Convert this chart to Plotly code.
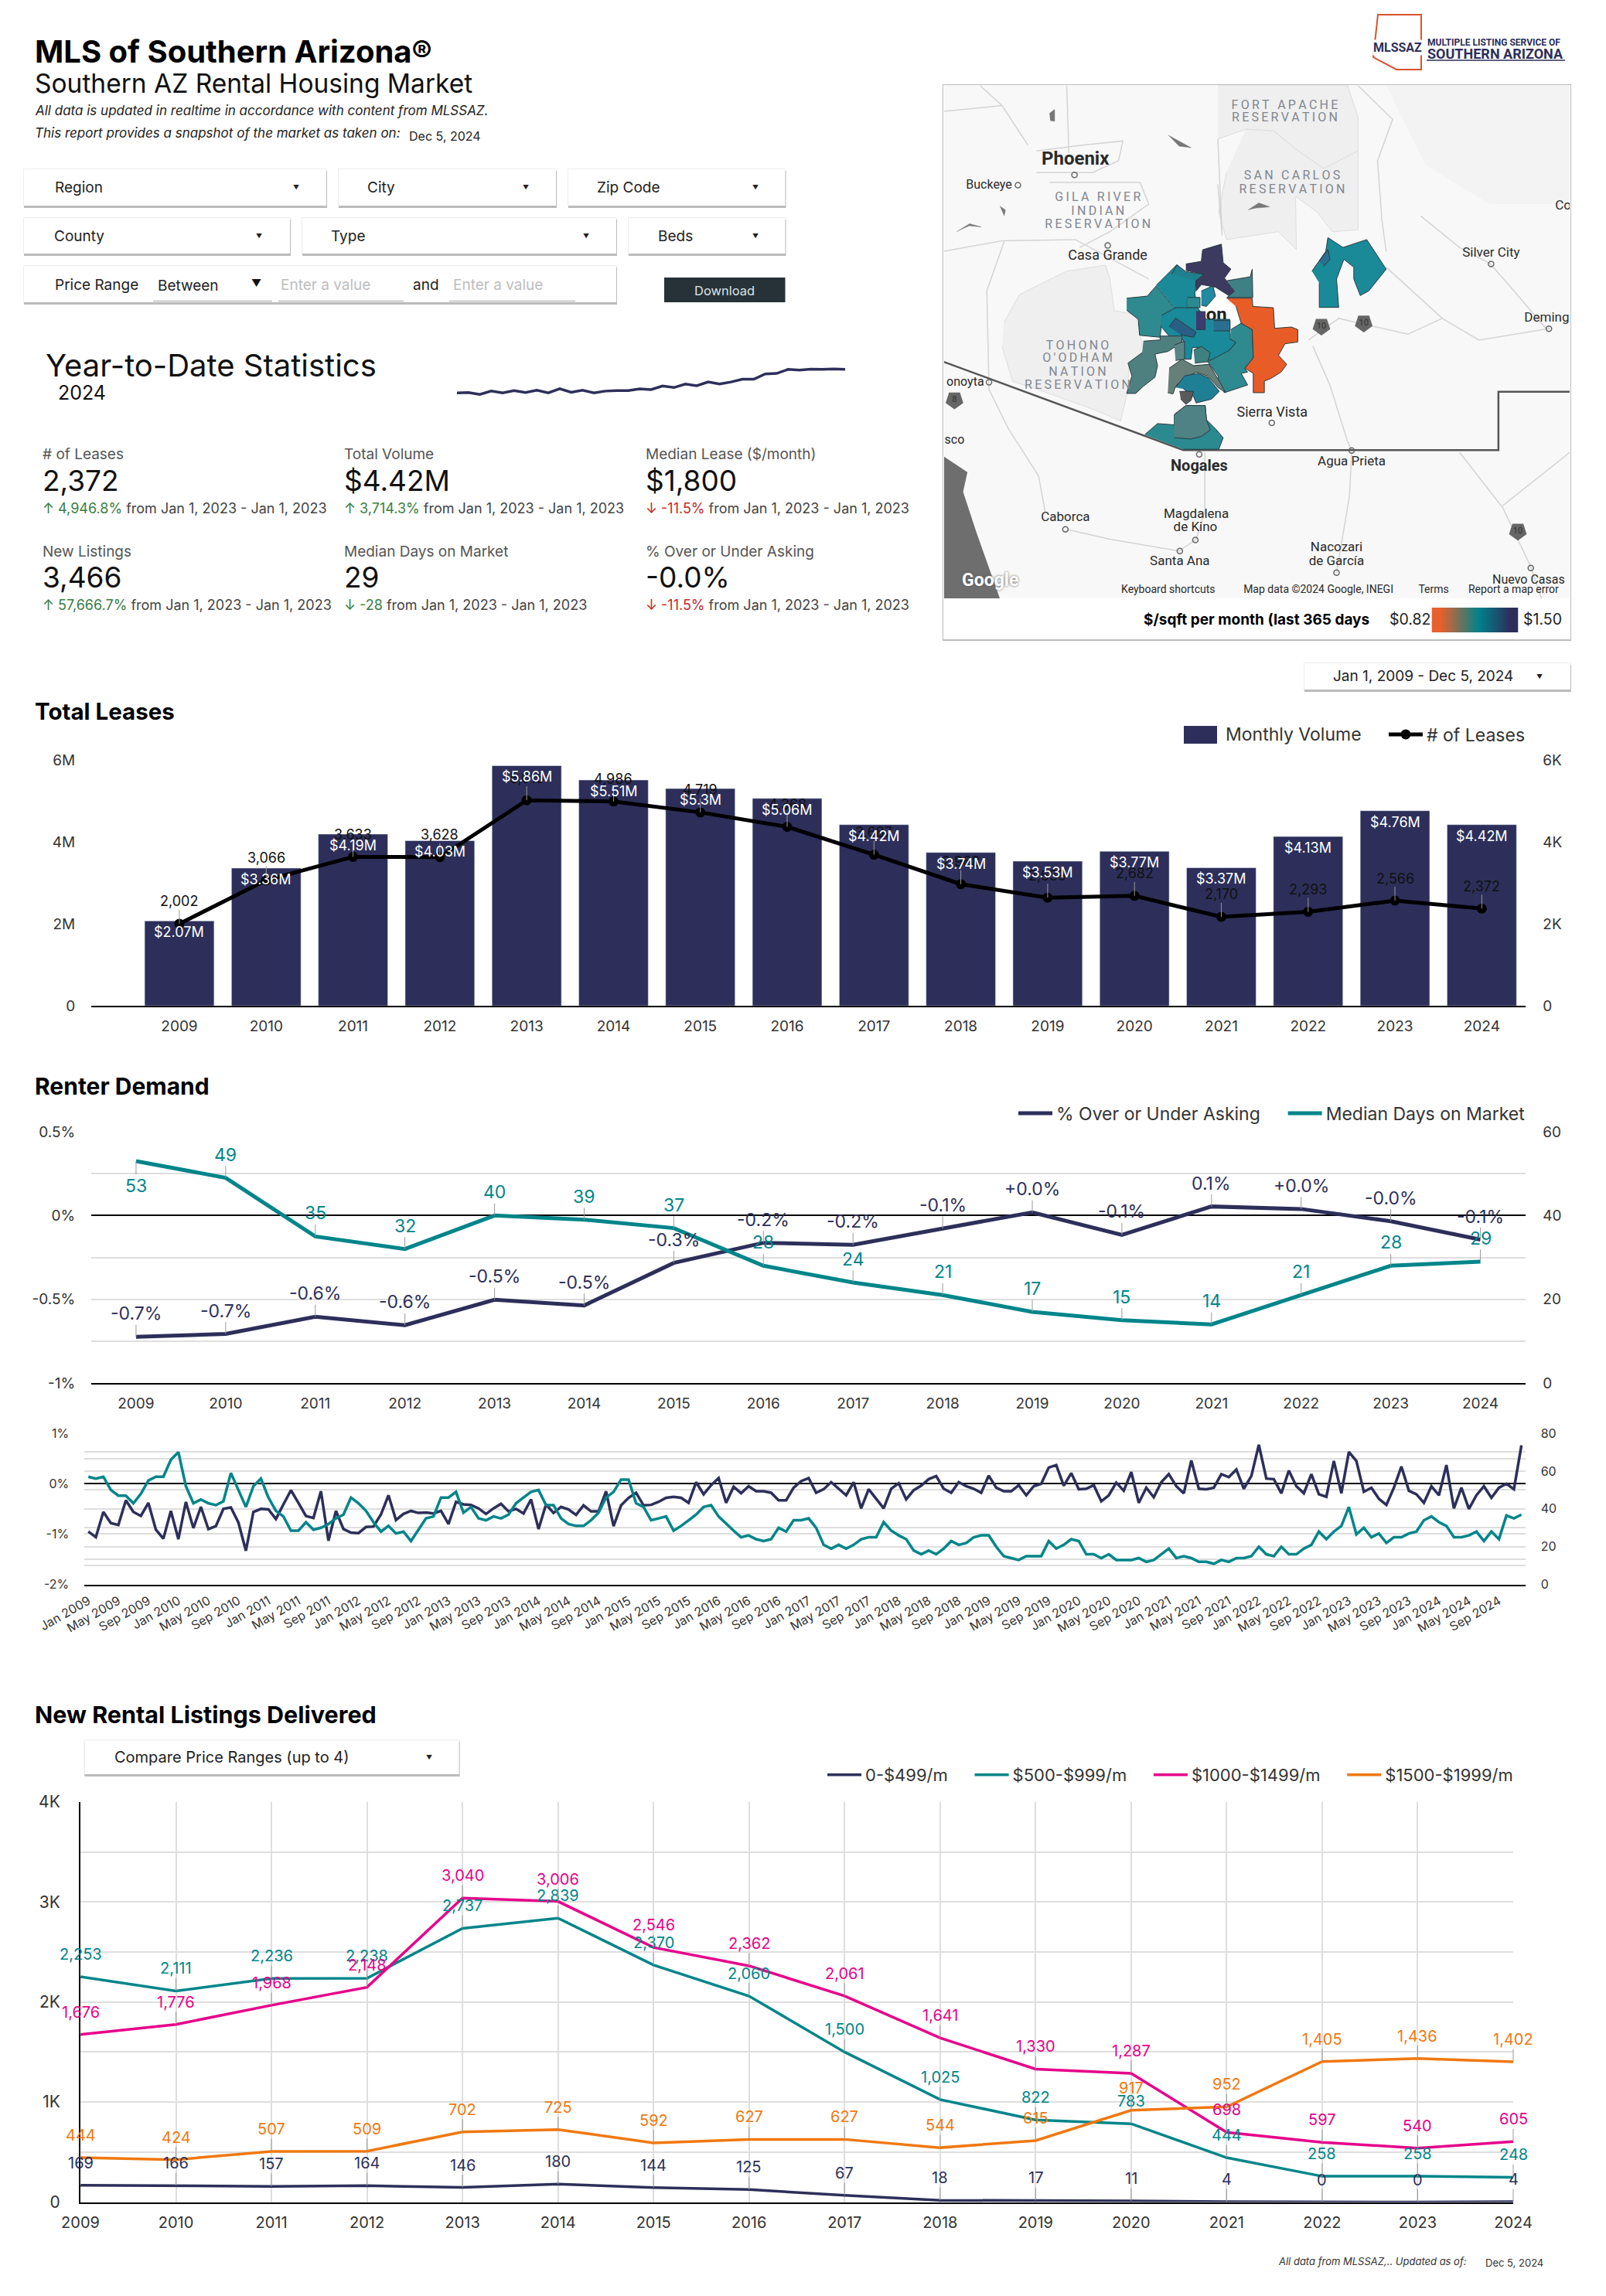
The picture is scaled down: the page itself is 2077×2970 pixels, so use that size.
import plotly.graph_objects as go

W, H = 2077, 2970
NAVY, TEAL, MAGENTA, ORANGE = "#2D2F5A", "#00858A", "#E6008A", "#F07810"
GREEN, RED, GRID, FONT = "#3A7D44", "#C62828", "#DEDEDE", "Inter"

YEARS = [str(y) for y in range(2009, 2025)]
VOLUME = [2.07e6, 3.36e6, 4.19e6, 4.03e6, 5.86e6, 5.51e6, 5.30e6, 5.06e6, 4.42e6, 3.74e6, 3.53e6, 3.77e6, 3.37e6, 4.13e6, 4.76e6, 4.42e6]
VOLUME_LABELS = ["$2.07M", "$3.36M", "$4.19M", "$4.03M", "$5.86M", "$5.51M", "$5.3M", "$5.06M", "$4.42M", "$3.74M", "$3.53M", "$3.77M", "$3.37M", "$4.13M", "$4.76M", "$4.42M"]
LEASES = [2002, 3066, 3633, 3628, 5015, 4986, 4719, 4368, 3687, 2968, 2639, 2682, 2170, 2293, 2566, 2372]

ASKING = [-0.724, -0.707, -0.604, -0.655, -0.503, -0.537, -0.283, -0.163, -0.175, -0.077, 0.019, -0.116, 0.054, 0.039, -0.034, -0.144]
ASKING_LABELS = ["-0.7%", "-0.7%", "-0.6%", "-0.6%", "-0.5%", "-0.5%", "-0.3%", "-0.2%", "-0.2%", "-0.1%", "+0.0%", "-0.1%", "0.1%", "+0.0%", "-0.0%", "-0.1%"]
DAYS = [53, 49, 35, 32, 40, 39, 37, 28, 24, 21, 17, 15, 14, 21, 28, 29]

MONTHS = ["Jan", "Feb", "Mar", "Apr", "May", "Jun", "Jul", "Aug", "Sep", "Oct", "Nov", "Dec"]
MONTH_LABELS = [f"{m} {y}" for y in YEARS for m in MONTHS]
ASKING_MONTHLY = [
    -0.95, -1.06, -0.56, -0.78, -0.82, -0.33, -0.56, -0.64, -0.38, -0.91, -1.09, -0.54,
    -1.10, -0.36, -0.88, -0.46, -0.90, -0.84, -0.50, -0.47, -0.77, -1.33, -0.56, -0.50,
    -0.51, -0.70, -0.41, -0.13, -0.38, -0.64, -0.68, -0.15, -1.13, -0.54, -0.90, -0.97,
    -0.98, -0.86, -0.85, -0.61, -0.23, -0.72, -0.60, -0.54, -0.58, -0.57, -0.59, -0.54,
    -0.80, -0.36, -0.41, -0.42, -0.49, -0.60, -0.49, -0.40, -0.55, -0.50, -0.59, -0.31,
    -0.90, -0.41, -0.58, -0.46, -0.51, -0.62, -0.43, -0.55, -0.55, -0.15, -0.84, -0.43,
    -0.28, -0.18, -0.43, -0.42, -0.36, -0.28, -0.26, -0.28, -0.38, 0.03, -0.21, -0.03,
    0.11, -0.38, -0.06, -0.19, -0.05, -0.15, -0.15, -0.18, -0.33, -0.33, -0.08, 0.05,
    0.11, -0.18, -0.11, 0.03, -0.10, -0.23, 0.03, -0.49, -0.11, -0.31, -0.49, -0.10,
    0.01, -0.31, -0.13, -0.04, 0.09, 0.15, -0.10, -0.18, 0.03, -0.05, -0.10, -0.18,
    0.16, -0.08, -0.15, -0.15, -0.03, -0.23, -0.05, 0.0, 0.32, 0.37, -0.04, 0.21,
    -0.11, -0.10, -0.03, -0.35, -0.23, 0.02, -0.14, 0.23, -0.38, -0.08, -0.27, 0.03,
    0.19, -0.05, -0.19, 0.46, -0.10, -0.11, -0.08, 0.19, 0.13, 0.28, -0.10, 0.15,
    0.77, 0.10, 0.09, -0.19, 0.26, -0.05, -0.19, 0.19, -0.21, -0.26, 0.45, -0.19,
    0.63, 0.45, -0.16, -0.08, -0.30, -0.42, -0.08, 0.34, -0.14, -0.21, -0.38, -0.05,
    -0.23, 0.37, -0.49, -0.08, -0.50, -0.23, -0.05, -0.28, -0.08, 0.0, -0.11, 0.76,
]
DAYS_MONTHLY = [
    57, 56, 57, 50, 47, 47, 43, 48, 55, 57, 57, 66,
    70, 52, 43, 45, 43, 42, 44, 59, 50, 41, 52, 56,
    46, 39, 36, 28.5, 28.5, 33, 29, 30, 32, 35, 37, 46,
    43, 39, 33, 28, 31, 27, 28, 23, 29, 35, 36, 46,
    46, 49, 38, 41, 35, 34, 36, 35, 37, 43, 46, 49,
    50, 42, 42, 35, 32, 31, 31, 34, 38, 46, 49, 55.5,
    55.5, 43, 41, 34, 35, 36, 28.5, 31, 34, 37, 41, 42,
    36, 32, 28.5, 25, 26, 24, 23, 24, 30, 28, 34, 34,
    35, 30, 21, 19, 21, 19, 21, 24, 25, 25, 33, 28.5,
    26, 24, 18, 16, 18, 16, 19, 23, 21, 22, 25, 26,
    26, 20, 15, 14, 13, 15, 15, 15, 23, 19, 21, 24,
    23, 16, 16, 14, 16, 13, 13, 13, 14, 12, 13, 16,
    19, 14, 15, 14, 12, 12, 11, 13, 12, 14, 14, 15,
    20, 16, 15, 20, 16, 16, 19, 21, 28, 24, 28, 31,
    41, 26.5, 30, 25, 27, 22, 25, 25, 27, 28, 34, 36,
    33, 31, 25, 25, 26, 28, 23, 28, 24, 36.5, 35, 37,
]

RANGE_0_499 = [169, 166, 157, 164, 146, 180, 144, 125, 67, 18, 17, 11, 4, 0, 0, 4]
RANGE_500_999 = [2253, 2111, 2236, 2238, 2737, 2839, 2370, 2060, 1500, 1025, 822, 783, 444, 258, 258, 248]
RANGE_1000_1499 = [1676, 1776, 1968, 2148, 3040, 3006, 2546, 2362, 2061, 1641, 1330, 1287, 698, 597, 540, 605]
RANGE_1500_1999 = [444, 424, 507, 509, 702, 725, 592, 627, 627, 544, 615, 917, 952, 1405, 1436, 1402]

SPARK = [35, 36, 29, 42, 35, 44, 36, 45, 35, 51, 37, 45, 35, 42, 44, 44, 51, 48, 62, 56, 70, 63, 78, 70, 78, 89, 89, 110, 112, 128, 125, 129, 128, 130, 128]

STAT_NAMES = ["# of Leases", "Total Volume", "Median Lease ($/month)", "New Listings", "Median Days on Market", "% Over or Under Asking"]
STAT_VALUES = ["2,372", "$4.42M", "$1,800", "3,466", "29", "-0.0%"]
STAT_DELTAS = ["4,946.8%", "3,714.3%", "-11.5%", "57,666.7%", "-28", "-11.5%"]
STAT_UP = [True, True, False, True, None, False]
PERIOD = "from Jan 1, 2023 - Jan 1, 2023"

# Map base layers, in the map's own unit space
MAP_RESERVATIONS = [
    ([670, 970, 995, 995, 915, 850, 800, 735, 670], [98, 98, 180, 265, 310, 260, 215, 210, 235]),
    ([735, 800, 850, 915, 995, 995, 935, 900, 850, 852, 810, 690, 672, 690], [210, 215, 260, 310, 265, 465, 470, 420, 380, 515, 470, 490, 420, 320]),
    ([175, 210, 320, 410, 420, 430, 480, 490, 500, 465, 460, 445, 380, 240, 195, 170], [700, 630, 570, 555, 590, 670, 680, 735, 770, 800, 880, 950, 920, 865, 850, 760]),
]
MAP_UPLANDS = [
    ([1060, 1485, 1485, 1300, 1150], [98, 98, 400, 400, 300]),
]
MAP_ROADS = [
    ([35, 170, 340, 510], [520, 493, 490, 590]),
    ([120, 170, 230], [100, 150, 250]),
    ([35, 170], [165, 150]),
    ([320, 325], [100, 270]),
    ([175, 135, 140, 185, 255, 270], [495, 620, 870, 970, 1090, 1180]),
    ([640, 640, 620, 580, 420, 320], [1030, 1180, 1250, 1280, 1250, 1225]),
    ([980, 975, 945], [1030, 1140, 1335]),
    ([880, 950, 1030, 1110, 1190, 1275, 1440], [745, 690, 710, 730, 690, 745, 715]),
    ([890, 930, 970, 980], [760, 860, 1000, 1025]),
    ([1060, 1150, 1190], [560, 650, 690]),
    ([1230, 1330, 1395, 1420], [1030, 1170, 1320, 1400]),
    ([1485, 1330], [1030, 1165]),
    ([995, 1075, 1040, 1050, 1060], [100, 185, 290, 440, 520]),
    ([1140, 1230, 1300, 1340, 1430], [430, 510, 550, 600, 715]),
    ([250, 360, 450, 440, 380, 360, 250], [265, 250, 240, 290, 320, 320, 320]),
    ([280, 490, 510, 420, 350], [345, 345, 400, 470, 510]),
    ([670, 680, 670], [235, 480, 350]),
]
MAP_LAKES = [
    ([280, 292, 292, 282], [170, 160, 190, 188]),
    ([555, 580, 608, 580], [225, 240, 257, 253]),
    ([740, 765, 790, 760], [415, 397, 407, 410]),
    ([165, 178, 175], [405, 415, 430]),
    ([65, 95, 122, 95], [470, 450, 458, 455]),
]
MAP_BORDER = ([35, 590, 1320, 1320, 1485], [800, 1024, 1024, 876, 876])
MAP_SEA = ([35, 90, 80, 110, 165, 35], [1040, 1080, 1130, 1230, 1400, 1400])
MAP_HOLE = ([642, 665, 692, 725, 700, 644], [660, 638, 638, 692, 692, 692])

# Tucson-area regions (colour, x, y), on a finer grid converted by the map scale below
MAP_REGIONS = [
    ("#2F8A90", [770, 850, 885, 950, 1000, 905, 900, 820, 815, 770], [318, 310, 270, 350, 400, 420, 470, 462, 400, 365]),
    ("#1A8A99", [885, 965, 1000, 1040, 1035, 1040, 1005, 1005, 955], [268, 188, 225, 250, 300, 330, 320, 360, 355]),
    ("#1F7F8F", [945, 965, 1000, 1070, 1040, 1040], [225, 188, 215, 225, 262, 250]),
    ("#3D3A60", [1000, 1060, 1065, 1138, 1145, 1175, 1150, 1190, 1170, 1115, 1060, 1040, 1040, 1070, 1000], [185, 175, 130, 108, 180, 205, 240, 290, 310, 275, 265, 290, 250, 225, 210]),
    ("#3F8085", [1160, 1250, 1258, 1260, 1160, 1190], [250, 235, 205, 315, 315, 290]),
    ("#1F8AA0", [1060, 1105, 1115, 1080, 1060], [290, 270, 310, 350, 345]),
    ("#2A8A90", [1005, 1055, 1055, 1005], [315, 315, 355, 355]),
    ("#198A9A", [905, 960, 1045, 1080, 1170, 1170, 1195, 1150, 1090, 1060, 1025, 1020, 990, 990, 935, 905], [385, 355, 355, 400, 400, 475, 490, 540, 560, 510, 510, 555, 555, 480, 465, 430]),
    ("#2A5F85", [935, 960, 1040, 1030, 980], [430, 395, 450, 470, 460]),
    ("#3D3A70", [1040, 1075, 1075, 1040], [370, 370, 440, 440]),
    ("#2A6F90", [1108, 1172, 1172, 1108], [405, 405, 445, 445]),
    ("#2F8A90", [1175, 1215, 1258, 1262, 1228, 1240, 1215, 1240, 1150, 1130, 1125, 1085, 1170, 1195, 1170], [440, 415, 440, 550, 590, 605, 610, 655, 685, 660, 620, 565, 520, 490, 475]),
    ("#4F8080", [835, 900, 900, 985, 985, 930, 880, 890, 880, 835, 805, 770, 790, 775, 830], [485, 480, 465, 465, 490, 525, 535, 580, 625, 660, 688, 688, 620, 570, 530]),
    ("#5A8585", [955, 995, 995, 960], [500, 485, 555, 560]),
    ("#3F8080", [1030, 1060, 1095, 1085, 1035], [520, 505, 530, 565, 570]),
    ("#667F78", [935, 985, 1030, 1090, 1130, 1155, 1125, 1085, 1040, 990, 960, 950, 930], [590, 555, 580, 575, 640, 685, 665, 620, 605, 630, 660, 690, 685]),
    ("#1F7F95", [960, 995, 1045, 1085, 1130, 1100, 1040, 1030, 990], [665, 620, 610, 625, 680, 710, 725, 700, 670]),
    ("#5A5A5A", [975, 1030, 1020, 1000, 980], [680, 680, 715, 730, 710]),
    ("#2B8A90", [840, 890, 955, 955, 1000, 1075, 1080, 1115, 1145, 1128, 990], [848, 805, 810, 770, 735, 735, 790, 825, 860, 905, 905]),
    ("#4F8285", [955, 1000, 1075, 1080, 1095, 1060, 1020, 955], [770, 735, 735, 790, 830, 855, 865, 860]),
    ("#E85D27", [1158, 1258, 1260, 1340, 1345, 1410, 1435, 1435, 1385, 1360, 1392, 1370, 1330, 1305, 1305, 1262, 1262, 1230, 1262, 1258, 1215, 1195], [318, 318, 350, 355, 435, 430, 440, 488, 495, 540, 575, 605, 630, 640, 685, 685, 610, 590, 550, 440, 415, 350]),
]
MAP_EAST_REGIONS = [
    ("#1A8A99", [888, 920, 925, 960, 1015, 1060, 1020, 1000, 985, 985, 962, 945, 950, 905, 905], [570, 520, 485, 510, 490, 565, 620, 632, 590, 560, 540, 590, 662, 662, 600]),
    ("#2A6F90", [905, 925, 930, 915], [545, 515, 540, 558]),
]
MAP_SCALE_X, MAP_SCALE_Y, MAP_OFFSET_Y = 0.596, 0.653, 431

MAP_TEXT = ["<b>Phoenix</b>", "Buckeye", "Casa Grande", "onoyta", "sco", "Silver City", "Deming", "Co", "Sierra Vista", "<b>Nogales</b>", "Agua Prieta", "Caborca", "Magdalena", "de Kino", "Santa Ana", "Nacozari", "de García", "Nuevo Casas", "Keyboard shortcuts", "Map data ©2024 Google, INEGI", "Terms", "Report a map error"]
MAP_TEXT_X = [340, 140, 415, 85, 60, 1303, 1432, 1470, 796, 627, 980, 317, 620, 618, 582, 945, 945, 1390, 555, 903, 1170, 1355]
MAP_TEXT_Y = [288, 352, 533, 852, 1000, 524, 690, 405, 930, 1067, 1055, 1195, 1187, 1222, 1308, 1272, 1308, 1355, 1380, 1380, 1380, 1380]
MAP_TEXT_SIZE = [24, 16, 18, 16, 16, 17, 17, 17, 18, 20, 17, 17, 17, 17, 17, 17, 17, 16, 14, 14, 14, 14]
MAP_AREA_TEXT = ["GILA RIVER", "INDIAN", "RESERVATION", "FORT APACHE", "RESERVATION", "SAN CARLOS", "RESERVATION", "TOHONO", "O'ODHAM", "NATION", "RESERVATION"]
MAP_AREA_X = [392, 392, 392, 825, 825, 842, 842, 345, 345, 345, 345]
MAP_AREA_Y = [385, 420, 453, 150, 183, 330, 364, 760, 793, 827, 860]
MAP_CITY_X = [338, 207, 415, 1303, 795, 627, 980, 317, 618, 582, 945, 1395, 1437, 140]
MAP_CITY_Y = [326, 352, 505, 552, 955, 1035, 1025, 1225, 1252, 1280, 1335, 1323, 716, 852]
MAP_SHIELD_X = [910, 1008, 60, 1365]
MAP_SHIELD_Y = [710, 702, 897, 1230]
MAP_SHIELD_TEXT = ["10", "10", "8", "10"]
SCALE_VALUES = [0.82, 0.99, 1.16, 1.33, 1.50]
GAP = "\u00a0" * 4


def px(x):
    return x / W


def py(y):
    return 1 - y / H


def xdom(a, b):
    return [a / W, b / W]


def ydom(top, bottom):
    return [1 - bottom / H, 1 - top / H]


fig = go.Figure()
shapes, annotations = [], []


def text(x, y, s, size, color="#000", anchor="left", family=FONT, bg=None):
    annotations.append(dict(xref="paper", yref="paper", x=px(x), y=py(y), text=s, showarrow=False,
                            xanchor=anchor, yanchor="middle", font=dict(size=size, color=color, family=family),
                            bgcolor=bg, borderpad=0))


def rect(x0, y0, x1, y1, fill, line=None, lw=0, layer="below"):
    shapes.append(dict(type="rect", xref="paper", yref="paper", x0=px(x0), x1=px(x1), y0=py(y0), y1=py(y1),
                       fillcolor=fill, layer=layer, line=dict(color=line or "rgba(0,0,0,0)", width=lw)))


def hline(x0, x1, y, color, lw):
    shapes.append(dict(type="line", xref="paper", yref="paper", x0=px(x0), x1=px(x1), y0=py(y), y1=py(y),
                       layer="below", line=dict(color=color, width=lw)))


def box(x0, y0, x1, y1):
    rect(x0 - 1, y0 - 1, x1 + 1, y1 + 1, "#EDEDED")
    rect(x0, y0 + 2, x1 + 1, y1 + 3, "#BBBBBB")
    rect(x0, y0, x1, y1, "#FFFFFF")


def dropdown(x0, y0, x1, y1, label, lx, ax, size=19):
    box(x0, y0, x1, y1)
    text(lx, (y0 + y1) / 2, label, size, "#222")
    text(ax, (y0 + y1) / 2, "▼", 8, "#222", anchor="center")


def point_labels(xref, yref, xs, ys, labels, color, size, standoffs=None):
    for i, (x, y, s) in enumerate(zip(xs, ys, labels)):
        annotations.append(dict(xref=xref, yref=yref, x=x, y=y, text=s, showarrow=True, arrowhead=0, arrowwidth=1,
                                arrowcolor="#9A9A9A", ax=0, ay=standoffs[i] if standoffs else -30,
                                font=dict(size=size, color=color, family=FONT), borderpad=0))


# Header
text(44, 67, "<b>MLS of Southern Arizona®</b>", 40)
text(44, 108, "Southern AZ Rental Housing Market", 33.5, "#111")
text(44, 143, "<i>All data is updated in realtime in accordance with content from MLSSAZ.</i>", 17, "#222")
text(44, 172, "<i>This report provides a snapshot of the market as taken on:</i>", 17, "#222")
text(528, 176, "Dec 5, 2024", 16, "#222")

# Logo
shapes.append(dict(type="path", xref="paper", yref="paper", layer="below",
                   path=f"M {px(1782)} {py(19)} L {px(1838)} {py(19)} L {px(1838)} {py(90)} L {px(1806)} {py(90)} L {px(1776)} {py(74)} Z",
                   line=dict(color="#D9532C", width=2)))
text(1807, 62, "<b>MLSSAZ</b>", 16, NAVY, anchor="center", family="Roboto", bg="#FFFFFF")
text(1845, 55, "<b>MULTIPLE LISTING SERVICE OF</b>", 12, NAVY, family="Roboto")
text(1845, 69, "<b>SOUTHERN ARIZONA</b>", 18, NAVY, family="Roboto")
hline(1845, 2024, 78, NAVY, 1.5)

# Filter controls
dropdown(31, 219, 422, 266, "Region", 70, 383)
dropdown(438, 219, 719, 266, "City", 474, 680)
dropdown(735, 219, 1015.5, 266, "Zip Code", 771, 976.5)
dropdown(31, 282, 375, 328, "County", 69, 335)
dropdown(391, 282, 797, 328, "Type", 427, 758)
dropdown(813, 282, 1015.5, 328, "Beds", 850, 976.5)
box(31, 344, 797, 391)
text(70, 368, "Price Range", 19, "#222")
text(203, 369, "Between", 19, "#222")
text(331, 366, "▼", 13, "#111", anchor="center")
text(362, 368, "Enter a value", 19, "#BDBDBD")
text(533, 368, "and", 19, "#222")
text(585, 368, "Enter a value", 19, "#BDBDBD")
for a, b in [(198, 352), (360, 522), (581, 744)]:
    hline(a, b, 389.5, "#BBBBBB", 1.5)
rect(859, 359, 1015.5, 391, "#263238")
text(937, 376, "Download", 16.5, "#DDE3E6", anchor="center")

# Year-to-date statistics
text(58, 473, "Year-to-Date Statistics", 40, "#111")
text(74, 508, "2024", 25, "#111")
for i, (name, value, delta, up) in enumerate(zip(STAT_NAMES, STAT_VALUES, STAT_DELTAS, STAT_UP)):
    cx = [53.5, 444, 834][i % 3]
    base = [588, 713][i // 3]
    color = GREEN if up or up is None else RED
    arrow = "↑" if up else "↓"
    text(cx, base, name, 19, "#555")
    text(cx, base + 34, value, 37, "#111")
    text(cx, base + 69, f'<span style="color:{color}">{arrow} {delta}</span> <span style="color:#444">{PERIOD}</span>', 18)

# Map panel
rect(1219, 109, 2032, 829, "#BBBBBB")
rect(1220, 110, 2031, 827, "#FFFFFF")
rect(1221, 110, 2030, 774, "#F8F8F8")
text(1772, 801, "<b>$/sqft per month (last 365 days</b>", 19, "#000", anchor="right")
text(1796, 801, "$0.82", 19.5, "#222")
text(1969, 801, "$1.50", 19.5, "#222")

# Section titles and other dropdowns
text(44, 920, "<b>Total Leases</b>", 29.5)
text(44, 1405, "<b>Renter Demand</b>", 30)
text(44, 2217, "<b>New Rental Listings Delivered</b>", 30.5)
dropdown(1687, 858, 2031, 892, "Jan 1, 2009 - Dec 5, 2024", 1723, 1991, 19)
dropdown(109.4, 2251.5, 593.6, 2295, "Compare Price Ranges (up to 4)", 147, 554.5, 20)
text(1652, 2924.6, "<i>All data from MLSSAZ,.. Updated as of:</i>", 13, "#333")
text(1920, 2926.6, "Dec 5, 2024", 13, "#333")

# Total Leases
fig.add_trace(go.Bar(x=YEARS, y=VOLUME, name="Monthly Volume", marker=dict(color=NAVY), width=0.8,
                     xaxis="x", yaxis="y", showlegend=False))
rect(1531, 939, 1574, 962, NAVY)
text(1584, 950, "Monthly Volume", 23, "#333")
fig.add_trace(go.Scatter(x=YEARS, y=LEASES, name="# of Leases", mode="lines+markers",
                         line=dict(color="#000000", width=5), marker=dict(color="#000000", size=13),
                         xaxis="x", yaxis="y2", legend="legend"))
point_labels("x", "y2", range(16), LEASES, [f"{v:,}" for v in LEASES], "#111", 18, [-29] * 16)
for i, (v, s) in enumerate(zip(VOLUME, VOLUME_LABELS)):
    annotations.append(dict(xref="x", yref="y", x=i, y=v, text=s, showarrow=False, yanchor="top", yshift=-3,
                            font=dict(size=18, color="#FFFFFF", family=FONT), borderpad=0))

# Renter Demand
fig.add_trace(go.Scatter(x=YEARS, y=ASKING, name="% Over or Under Asking" + GAP, mode="lines", line=dict(color=NAVY, width=5),
                         xaxis="x2", yaxis="y3", legend="legend2"))
fig.add_trace(go.Scatter(x=YEARS, y=DAYS, name="Median Days on Market", mode="lines", line=dict(color=TEAL, width=5),
                         xaxis="x2", yaxis="y4", legend="legend2"))
point_labels("x2", "y3", range(16), ASKING, ASKING_LABELS, NAVY, 23)
point_labels("x2", "y4", range(16), DAYS, [str(v) for v in DAYS], TEAL, 23, [32] + [-30] * 15)

# Monthly detail
fig.add_trace(go.Scatter(x=MONTH_LABELS, y=ASKING_MONTHLY, mode="lines", line=dict(color=NAVY, width=3.5),
                         xaxis="x3", yaxis="y5", showlegend=False))
fig.add_trace(go.Scatter(x=MONTH_LABELS, y=DAYS_MONTHLY, mode="lines", line=dict(color=TEAL, width=3.5),
                         xaxis="x3", yaxis="y6", showlegend=False))

# New listings
for name, values, color in [("0-$499/m" + GAP, RANGE_0_499, NAVY), ("$500-$999/m" + GAP, RANGE_500_999, TEAL),
                            ("$1000-$1499/m" + GAP, RANGE_1000_1499, MAGENTA), ("$1500-$1999/m", RANGE_1500_1999, ORANGE)]:
    fig.add_trace(go.Scatter(x=YEARS, y=values, name=name, mode="lines", line=dict(color=color, width=3.5),
                             xaxis="x4", yaxis="y7", legend="legend3"))
    point_labels("x4", "y7", range(16), values, [f"{v:,}" for v in values], color, 20, [-29] * 16)

# Sparkline
fig.add_trace(go.Scatter(y=SPARK, mode="lines", line=dict(color=NAVY, width=3.5), xaxis="x5", yaxis="y8", showlegend=False))

# Map
MAP = dict(xaxis="x6", yaxis="y9", showlegend=False, hoverinfo="skip")
for xs, ys in MAP_UPLANDS:
    fig.add_trace(go.Scatter(x=xs, y=ys, mode="lines", fill="toself", fillcolor="#F3F3F3", line=dict(color="#F3F3F3", width=0), **MAP))
for xs, ys in MAP_RESERVATIONS:
    fig.add_trace(go.Scatter(x=xs, y=ys, mode="lines", fill="toself", fillcolor="#EFEFEF", line=dict(color="#DDDDDD", width=1), **MAP))
for xs, ys in MAP_ROADS:
    fig.add_trace(go.Scatter(x=xs, y=ys, mode="lines", line=dict(color="#D4D4D4", width=1.5), **MAP))
for xs, ys in MAP_LAKES:
    fig.add_trace(go.Scatter(x=xs, y=ys, mode="lines", fill="toself", fillcolor="#777777", line=dict(color="#777777", width=0.5), **MAP))
fig.add_trace(go.Scatter(x=MAP_SEA[0], y=MAP_SEA[1], mode="lines", fill="toself", fillcolor="#6E6E6E", line=dict(color="#6E6E6E", width=0), **MAP))
fig.add_trace(go.Scatter(x=MAP_BORDER[0], y=MAP_BORDER[1], mode="lines", line=dict(color="#555555", width=2.5), **MAP))
fig.add_trace(go.Scatter(x=MAP_HOLE[0], y=MAP_HOLE[1], mode="lines", fill="toself", fillcolor="#FFFFFF", line=dict(color="#FFFFFF", width=0), **MAP))
fig.add_trace(go.Scatter(x=[667], y=[684], mode="text", text=["<b>on</b>"], textfont=dict(size=24, color="#222", family="Roboto"), **MAP))
for color, xs, ys in MAP_REGIONS:
    fig.add_trace(go.Scatter(x=[MAP_SCALE_X * v for v in xs], y=[MAP_OFFSET_Y + MAP_SCALE_Y * v for v in ys], mode="lines", fill="toself",
                             fillcolor=color, line=dict(color="#2A3A40", width=1), **MAP))
for color, xs, ys in MAP_EAST_REGIONS:
    fig.add_trace(go.Scatter(x=xs, y=ys, mode="lines", fill="toself", fillcolor=color, line=dict(color="#2A3A40", width=1), **MAP))
fig.add_trace(go.Scatter(x=MAP_CITY_X, y=MAP_CITY_Y, mode="markers", marker=dict(symbol="circle-open", size=7, color="#666", line=dict(width=1.5)), **MAP))
fig.add_trace(go.Scatter(x=MAP_SHIELD_X, y=MAP_SHIELD_Y, mode="markers+text", text=MAP_SHIELD_TEXT, textposition="middle center",
                         textfont=dict(size=11, color="#333", family="Roboto"), marker=dict(symbol="pentagon", angle=180, size=24, color="#666666"), **MAP))
fig.add_trace(go.Scatter(x=MAP_TEXT_X, y=MAP_TEXT_Y, mode="text", text=MAP_TEXT, textposition="middle center",
                         textfont=dict(size=MAP_TEXT_SIZE, color="#2A2A2A", family="Roboto"), **MAP))
fig.add_trace(go.Scatter(x=MAP_AREA_X, y=MAP_AREA_Y, mode="text", text=["\u2009".join(s) for s in MAP_AREA_TEXT], textposition="middle center",
                         textfont=dict(size=16, color="#808690", family="Roboto"), **MAP))
fig.add_trace(go.Scatter(x=[143], y=[1358], mode="text", text=["<b>Google</b>"], textposition="middle center",
                         textfont=dict(size=23, color="#FFFFFF", family="Roboto", shadow="0 0 3px #555555"), **MAP))

# Map colour scale
fig.add_trace(go.Heatmap(z=[SCALE_VALUES], zsmooth="best", showscale=False, hoverinfo="skip",
                         colorscale=[[0, "#E8602C"], [0.55, "#00828C"], [1, "#2D2F5A"]], xaxis="x7", yaxis="y10"))

HIDDEN = dict(visible=False, fixedrange=True)
TICK = dict(size=19, color="#333333", family=FONT)
TICK_M = dict(size=16, color="#333333", family=FONT)
TICK_L = dict(size=21, color="#333333", family=FONT)
CLEAR = "rgba(0,0,0,0)"


def x_cat(dom, rng, anchor, ticklen=8, grid=False, font=TICK, **kw):
    return dict(type="category", domain=dom, range=rng, anchor=anchor, showline=True, linecolor="#000000", linewidth=2,
                showgrid=grid, gridcolor=GRID, gridwidth=1.5, zeroline=False, ticks="outside", ticklen=ticklen, tickcolor=CLEAR, tickfont=font,
                categoryorder="trace", automargin=False, **kw)


def y_ax(dom, rng, vals, labels, side="left", overlay=None, anchor=None, grid=False, zero=False, ticklen=16, font=TICK, line=False):
    d = dict(domain=dom, range=rng, tickvals=vals, ticktext=labels, side=side, ticks="outside", ticklen=ticklen,
             tickcolor=CLEAR, tickfont=font, showgrid=grid, gridcolor=GRID, gridwidth=2, zeroline=zero,
             zerolinecolor="#000000", zerolinewidth=2, showline=line, linecolor="#000000", linewidth=2, anchor=anchor, automargin=False)
    if overlay:
        d["overlaying"] = overlay
    return d


D_TOTAL, D_RENT, D_MONTH, D_LIST = ydom(983, 1301), ydom(1464, 1789), ydom(1854, 2049.7), ydom(2331, 2848.5)

fig.update_layout(
    width=W, height=H, margin=dict(l=0, r=0, t=0, b=0, pad=0, autoexpand=False), autosize=False, paper_bgcolor="#FFFFFF", plot_bgcolor=CLEAR,
    font=dict(family=FONT, color="#222222"), barmode="overlay", showlegend=True,
    xaxis=x_cat(xdom(118, 1972.5), [-1.015, 15.5], "y"),
    yaxis=y_ax(D_TOTAL, [0, 6e6], [0, 2e6, 4e6, 6e6], ["0", "2M", "4M", "6M"], anchor="x"),
    yaxis2=y_ax(D_TOTAL, [0, 6000], [0, 2000, 4000, 6000], ["0", "2K", "4K", "6K"], side="right", overlay="y", anchor="x", ticklen=18),
    xaxis2=x_cat(xdom(118, 1972.5), [-0.5, 15.5], "y3"),
    yaxis3=y_ax(D_RENT, [-1, 0.5], [-1, -0.5, 0, 0.5], ["-1%", "-0.5%", "0%", "0.5%"], anchor="x2", grid=True, zero=True),
    yaxis4=y_ax(D_RENT, [0, 60], [0, 10, 20, 30, 40, 50, 60], ["0", "", "20", "", "40", "", "60"], side="right", overlay="y3", anchor="x2", grid=True, ticklen=18),
    xaxis3=x_cat(xdom(109.4, 1972.5), [-0.5, 191.5], "y5", ticklen=4, font=TICK_M, tickmode="linear", tick0=0, dtick=4, tickangle=-30),
    yaxis5=y_ax(D_MONTH, [-2, 1], [-2, -1.5, -1, -0.5, 0, 0.5, 1], ["-2%", "", "-1%", "", "0%", "", "1%"], anchor="x3", grid=True, zero=True, font=TICK_M),
    yaxis6=y_ax(D_MONTH, [0, 80], [0, 10, 20, 30, 40, 50, 60, 70, 80], ["0", "", "20", "", "40", "", "60", "", "80"], side="right", overlay="y5", anchor="x3", grid=True, font=TICK_M),
    xaxis4=x_cat(xdom(104, 1957), [0, 15], "y7", ticklen=7, grid=True, font=dict(size=20, color="#333333", family=FONT)),
    yaxis7=y_ax(D_LIST, [0, 4000], [0, 500, 1000, 1500, 2000, 2500, 3000, 3500, 4000], ["0", "", "1K", "", "2K", "", "3K", "", "4K"],
                anchor="x4", grid=True, ticklen=20, font=TICK_L, line=True),
    xaxis5=dict(domain=xdom(591, 1093), range=[0, 34], anchor="y8", **HIDDEN),
    yaxis8=dict(domain=ydom(470, 515), range=[14, 152], anchor="x5", **HIDDEN),
    xaxis6=dict(domain=xdom(1221, 2030), range=[36, 1485], anchor="y9", **HIDDEN),
    yaxis9=dict(domain=ydom(110, 774), range=[1400, 98], anchor="x6", **HIDDEN),
    xaxis7=dict(domain=xdom(1851.5, 1963.5), range=[-0.5, 4.5], anchor="y10", **HIDDEN),
    yaxis10=dict(domain=ydom(786, 818), range=[-0.5, 0.5], anchor="x7", **HIDDEN),
    legend=dict(x=px(1978), y=py(950), xanchor="right", yanchor="middle", orientation="h", font=dict(size=23, color="#333", family=FONT),
                bgcolor=CLEAR, itemwidth=44, traceorder="normal"),
    legend2=dict(x=px(1978), y=py(1440), xanchor="right", yanchor="middle", orientation="h", font=dict(size=23, color="#333", family=FONT),
                 bgcolor=CLEAR, itemwidth=44, traceorder="normal"),
    legend3=dict(x=px(1962), y=py(2296), xanchor="right", yanchor="middle", orientation="h", font=dict(size=22, color="#333", family=FONT),
                 bgcolor=CLEAR, itemwidth=44, traceorder="normal"),
    shapes=shapes, annotations=annotations,
)

fig.write_html("out.html", config=dict(displayModeBar=False),
               post_script="document.body.style.margin='0';document.documentElement.style.overflow='hidden';")
